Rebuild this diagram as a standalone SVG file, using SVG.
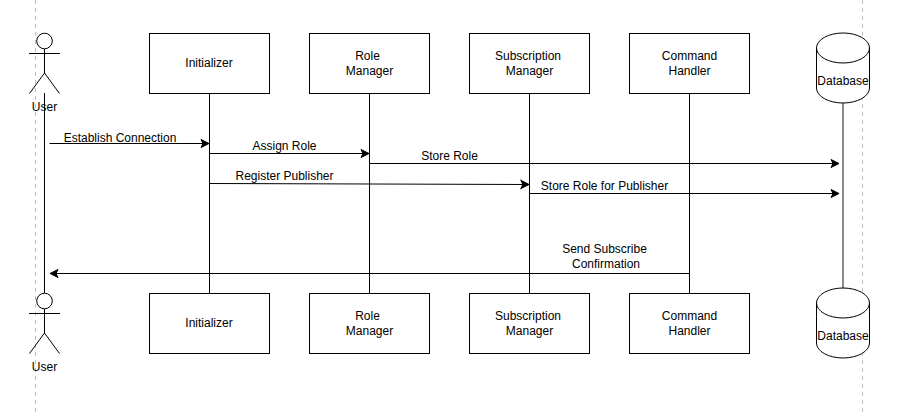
<svg xmlns="http://www.w3.org/2000/svg" width="904" height="414" viewBox="0 0 904 414">
<style>
text{font-family:"Liberation Sans",Arial,sans-serif;font-size:12px;fill:#000;text-anchor:middle}
.s{fill:#fff;stroke:#000;stroke-width:1}
.a{fill:none;stroke:#000;stroke-width:1}
.l{fill:none;stroke:#000;stroke-width:1}
.d{fill:none;stroke:#bfbfbf;stroke-width:1;stroke-dasharray:4 4}
</style>
<defs>
<marker id="arrow" markerUnits="userSpaceOnUse" markerWidth="10" markerHeight="10" refX="8" refY="4" orient="auto" overflow="visible">
<path d="M0,0 L8,4 L0,8 L2,4 Z" fill="#000" stroke="#000" stroke-width="1"/>
</marker>
<g id="actor"><circle cx="44.500" cy="41" r="7.800" class="a"/><path class="a" d="M44.500 49V73M29 53.500H60M44.500 73L29.500 93.500M44.500 73L59.500 93.500"/></g>
<g id="cyl"><path class="s" d="M816.500 48A26.500 15 0 0 1 869.500 48V88A26.500 15 0 0 1 816.500 88Z"/><path class="a" d="M816.500 48A26.500 15 0 0 0 869.500 48"/></g>
</defs>
<g id="guides"><path class="d" d="M35.500 0V414"/><path class="d" d="M862.500 0V414"/></g>
<g id="connectors">
<path class="l" d="M44.500 93V293"/>
<path class="l" d="M209.500 93V293"/>
<path class="l" d="M369.500 93V293"/>
<path class="l" d="M529.500 93V293"/>
<path class="l" d="M689.500 93V293"/>
<path class="l" d="M843 103V288" style="stroke:#666;stroke-width:1.500"/>
<path class="a" marker-end="url(#arrow)" d="M49.500 143.500H209"/>
<path class="a" marker-end="url(#arrow)" d="M209.500 153.500H369"/>
<path class="a" marker-end="url(#arrow)" d="M369.500 163.500H839"/>
<path class="a" marker-end="url(#arrow)" d="M209.500 183.500L529 184.500"/>
<path class="a" marker-end="url(#arrow)" d="M529.500 193.500H839"/>
<path class="a" marker-end="url(#arrow)" d="M689.500 273.500H50"/>
<text x="120" y="142">Establish Connection</text>
<text x="284.500" y="150">Assign Role</text>
<text x="449.500" y="160">Store Role</text>
<text x="284.500" y="180">Register Publisher</text>
<text x="604.500" y="190">Store Role for Publisher</text>
<text x="604.500" y="253">Send Subscribe</text>
<text x="606" y="268">Confirmation</text>
</g>
<g id="user-top"><use href="#actor"/><text x="44.500" y="111">User</text></g>
<g id="initializer-top"><rect class="s" x="149.500" y="33.500" width="120" height="60"/><text x="209" y="67">Initializer</text></g>
<g id="role-top"><rect class="s" x="309.500" y="33.500" width="120" height="60"/><text x="367.500" y="60">Role</text><text x="369.500" y="75">Manager</text></g>
<g id="sub-top"><rect class="s" x="469.500" y="33.500" width="120" height="60"/><text x="528" y="60">Subscription</text><text x="529.500" y="75">Manager</text></g>
<g id="cmd-top"><rect class="s" x="629.500" y="33.500" width="120" height="60"/><text x="689.500" y="60">Command</text><text x="689.500" y="75">Handler</text></g>
<g id="db-top"><use href="#cyl"/><text x="843" y="85">Database</text></g>
<g id="user-bottom"><use href="#actor" y="260"/><text x="44.500" y="371">User</text></g>
<g id="initializer-bottom"><rect class="s" x="149.500" y="293.500" width="120" height="60"/><text x="209" y="327">Initializer</text></g>
<g id="role-bottom"><rect class="s" x="309.500" y="293.500" width="120" height="60"/><text x="367.500" y="320">Role</text><text x="369.500" y="335">Manager</text></g>
<g id="sub-bottom"><rect class="s" x="469.500" y="293.500" width="120" height="60"/><text x="528" y="320">Subscription</text><text x="529.500" y="335">Manager</text></g>
<g id="cmd-bottom"><rect class="s" x="629.500" y="293.500" width="120" height="60"/><text x="689.500" y="320">Command</text><text x="689.500" y="335">Handler</text></g>
<g id="db-bottom"><use href="#cyl" y="255"/><text x="843" y="340">Database</text></g>
</svg>
